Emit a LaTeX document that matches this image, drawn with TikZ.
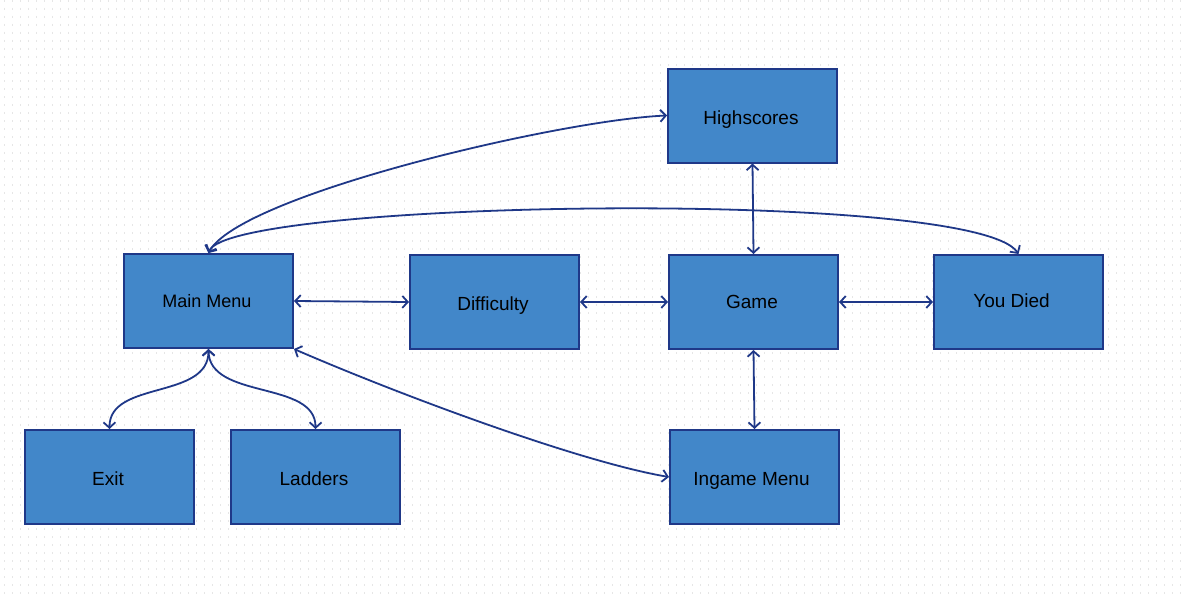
\documentclass[tikz,border=0pt]{standalone}
\usepackage{fontspec}
\setmainfont{Liberation Sans}
\usetikzlibrary{arrows.meta}
\definecolor{boxfill}{RGB}{66,135,201}
\definecolor{navy}{RGB}{31,56,136}
\definecolor{dotc}{RGB}{230,230,230}
\begin{document}
\begin{tikzpicture}[x=1pt,y=-1pt,
 box/.style={draw=navy,line width=2pt,fill=boxfill,minimum width=169pt,minimum height=94pt,inner sep=0pt,text height=17pt,text depth=0pt,font=\fontsize{19}{22}\selectfont,text=black},
 link/.style={draw=navy,line width=1.8pt,{Straight Barb[length=5.5pt,width=12pt]}-{Straight Barb[length=5.5pt,width=12pt]}}]
\useasboundingbox (0,0) rectangle (1182,594);
\fill[white] (0,0) rectangle (1182,594);
\foreach \i in {0,...,147} \draw[dotc,line width=1pt,dash pattern=on 2pt off 6pt] (4+8*\i,0) -- (4+8*\i,594);
\node[box] (hs) at (752.5,115.5) {\hspace*{-3pt}Highscores};
\node[box,font=\fontsize{18}{21}\selectfont,text height=13pt] (mm) at (208.5,301) {\hspace*{-3pt}Main Menu};
\node[box] (df) at (494.5,302) {\hspace*{-3pt}Difficulty};
\node[box,text height=13pt] (gm) at (753.5,302) {\hspace*{-3pt}Game};
\node[box,text height=11pt] (yd) at (1018.5,302) {\hspace*{-14pt}You Died};
\node[box] (ex) at (109.5,477) {\hspace*{-3pt}Exit};
\node[box] (ld) at (315.5,477) {\hspace*{-3pt}Ladders};
\node[box] (im) at (754.5,477) {\hspace*{-6pt}Ingame Menu};
\draw[link] (mm.north) .. controls (240,195) and (560,120) .. (hs.west);
\draw[link] (mm.north) .. controls (228,200) and (975,188) .. (yd.north);
\draw[link] (mm.east) -- (df.west);
\draw[link] (df.east) -- (gm.west);
\draw[link] (gm.east) -- (yd.west);
\draw[link] (hs.south) -- (gm.north);
\draw[link] (gm.south) -- (im.north);
\draw[link] (mm.south) .. controls (209,400) and (109,380) .. (ex.north);
\draw[link] (mm.south) .. controls (209,400) and (316,380) .. (ld.north);
\draw[link] (mm.south east) .. controls (400,395) and (580,462) .. (im.west);
\end{tikzpicture}
\end{document}
